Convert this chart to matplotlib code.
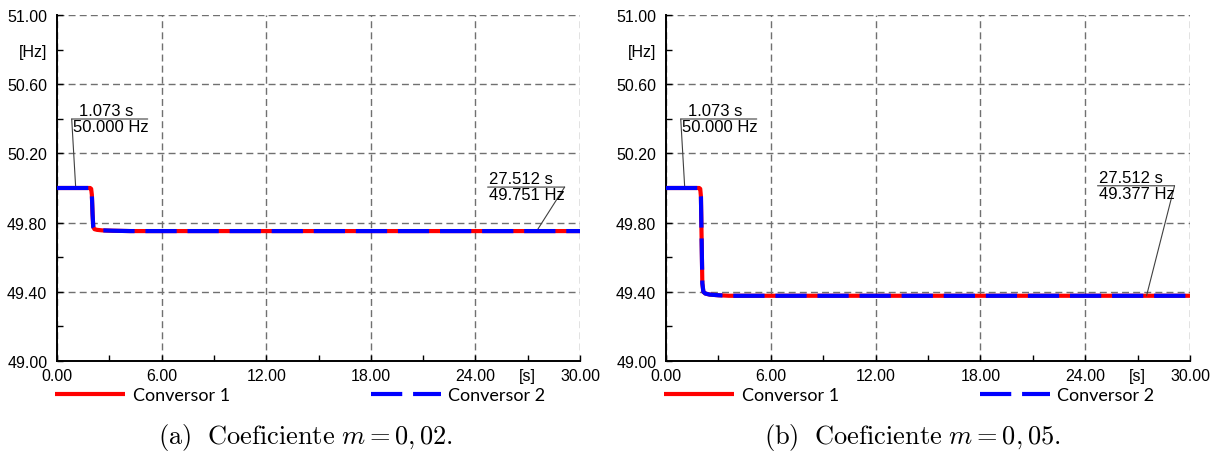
import matplotlib
matplotlib.use("Agg")
import matplotlib.pyplot as plt
from matplotlib.lines import Line2D
from matplotlib.transforms import offset_copy

plt.rcParams['mathtext.fontset'] = 'cm'

# time axis (s) and frequency (Hz)
t_a = [0.0, 1.90, 1.96, 2.00, 2.04, 2.08, 2.15, 2.30, 2.60, 3.20, 4.20, 30.0]
f_a = [50.000, 50.000, 49.995, 49.960, 49.850, 49.775, 49.762, 49.758, 49.755, 49.753, 49.751, 49.751]
t_b = [0.0, 1.90, 1.96, 2.00, 2.04, 2.08, 2.14, 2.25, 2.50, 3.00, 3.60, 30.0]
f_b = [50.000, 50.000, 49.995, 49.950, 49.700, 49.450, 49.400, 49.390, 49.384, 49.380, 49.377, 49.377]

series_labels = ['Conversor 1', 'Conversor 2']
x_major = [0, 6, 12, 18, 24, 30]
x_minor = [3, 9, 15, 21, 27]
y_major = [49.0, 49.4, 49.8, 50.2, 50.6, 51.0]
y_minor = [49.2, 49.6, 50.0, 50.4, 50.8]

# cursor readouts (time, value)
marks_a = [(1.073, 50.000), (27.512, 49.751)]
marks_b = [(1.073, 50.000), (27.512, 49.377)]
captions = [r'$\mathrm{(a)\ \ Coeficiente}\ m = 0,02.$',
            r'$\mathrm{(b)\ \ Coeficiente}\ m = 0,05.$']

tick_font = 'Liberation Sans'


def readout(ax, t, f, dx, dy, length, leader_right, top_shift):
    fig = ax.figure
    left = offset_copy(ax.transData, fig=fig, x=dx, y=dy, units='dots')
    # separator line
    ax.annotate('', xy=(t, f), xycoords=left, xytext=(length, 0),
                textcoords='offset pixels',
                arrowprops=dict(arrowstyle='-', lw=0.8, color='#404040',
                                shrinkA=0, shrinkB=0), annotation_clip=False)
    # leader to the point
    lx = dx + length if leader_right else dx
    ax.annotate('', xy=(t, f), xytext=(lx, dy), textcoords='offset pixels',
                arrowprops=dict(arrowstyle='-', lw=0.8, color='#404040',
                                shrinkA=0, shrinkB=0), annotation_clip=False)
    ax.annotate(f'{t:.3f} s', xy=(t, f), xytext=(dx + top_shift, dy + 1),
                textcoords='offset pixels', ha='left', va='bottom',
                fontsize=12, family=tick_font, annotation_clip=False)
    ax.annotate(f'{f:.3f} Hz', xy=(t, f), xytext=(dx + 1, dy),
                textcoords='offset pixels', ha='left', va='top',
                fontsize=12, family=tick_font, annotation_clip=False)


def panel(ax, t, f, marks, high_dy):
    ax.plot(t, f, color='#ff0000', lw=3, solid_capstyle='butt', zorder=3)
    ax.plot(t, f, color='#0000ff', lw=3, dashes=(7.5, 2.6), zorder=4)
    ax.set_xlim(0, 30)
    ax.set_ylim(49, 51)
    ax.set_xticks(x_major)
    ax.set_xticklabels([f'{v:.2f}' for v in x_major])
    ax.set_xticks(x_minor, minor=True)
    ax.set_xticklabels(['' if v != 27 else '[s]' for v in x_minor], minor=True)
    ax.set_yticks(y_major)
    ax.set_yticklabels([f'{v:.2f}' for v in y_major])
    ax.set_yticks(y_minor, minor=True)
    ax.set_yticklabels(['' if abs(v - 50.8) > 1e-6 else '[Hz]' for v in y_minor], minor=True)
    for lab in ax.get_xticklabels(which='both') + ax.get_yticklabels(which='both'):
        lab.set_family(tick_font)
        lab.set_fontsize(11.5)
    ax.tick_params(which='both', direction='in', length=4, width=1, color='black')
    ax.tick_params(axis='y', which='both', pad=7)
    ax.tick_params(axis='x', which='both', pad=5)
    ax.grid(True, which='major', color='#707070', ls=(0, (5, 3)), lw=1)
    ax.spines['top'].set_visible(False)
    ax.spines['right'].set_visible(False)
    ax.spines['left'].set_linewidth(1.4)
    ax.spines['bottom'].set_linewidth(1.4)
    ax.set_facecolor('white')

    readout(ax, marks[0][0], marks[0][1], -4, 69, 76, False, 7)
    readout(ax, marks[1][0], marks[1][1], -49, high_dy, 77, True, 1)

    handles = [Line2D([], [], color='#ff0000', lw=3, solid_capstyle='butt'),
               Line2D([], [], color='#0000ff', lw=3, dashes=(7.5, 2.6))]
    ax.legend(handles, series_labels, loc='upper left', bbox_to_anchor=(-0.004, -0.075),
              ncol=2, frameon=False, prop={'family': 'Lato', 'size': 13},
              handlelength=3.9, handletextpad=0.4, columnspacing=7.8,
              borderpad=0, borderaxespad=0)


fig = plt.figure(figsize=(12.2, 4.56), dpi=100)
ax_a = fig.add_axes([57 / 1220, 94 / 456, 523 / 1220, 346 / 456])
ax_b = fig.add_axes([666 / 1220, 94 / 456, 524 / 1220, 346 / 456])
panel(ax_a, t_a, f_a, marks_a, 44)
panel(ax_b, t_b, f_b, marks_b, 110)

fig.text(306 / 1220, 18 / 456, captions[0], ha='center', va='center', fontsize=19)
fig.text(912 / 1220, 18 / 456, captions[1], ha='center', va='center', fontsize=19)

fig.savefig('out.png', dpi=100, facecolor='white')
